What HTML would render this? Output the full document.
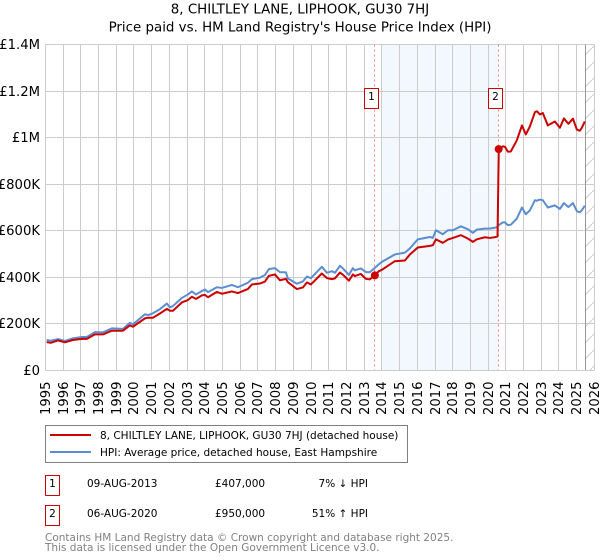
<!DOCTYPE html>
<html lang="en">
<head>
<meta charset="utf-8">
<title>8, CHILTLEY LANE, LIPHOOK, GU30 7HJ</title>
<style>
html,body{margin:0;padding:0;background:#fff;width:600px;height:560px;overflow:hidden}
svg{display:block;font-family:"DejaVu Sans","Liberation Sans",sans-serif;fill:#000}
</style>
</head>
<body>
<svg id="chart" xmlns="http://www.w3.org/2000/svg" width="600" height="560" viewBox="0 0 600 560">
  <defs>
    <pattern id="hatch" patternUnits="userSpaceOnUse" width="16" height="16">
      <path d="M-2 18 L18 -2" stroke="#cccccc" stroke-width="1" fill="none"/>
    </pattern>
  </defs>
  <text x="300" y="13.5" text-anchor="middle" font-size="13.4">8, CHILTLEY LANE, LIPHOOK, GU30 7HJ</text>
  <text x="300" y="31.5" text-anchor="middle" font-size="13.4">Price paid vs. HM Land Registry's House Price Index (HPI)</text>
  <g id="plot"></g>

  <rect x="45.5" y="425.5" width="362" height="37" fill="#fff" stroke="#808080" stroke-width="1"/>
  <line x1="50" x2="91" y1="435" y2="435" stroke="#cc0000" stroke-width="2"/>
  <text x="100" y="439" font-size="10.5">8, CHILTLEY LANE, LIPHOOK, GU30 7HJ (detached house)</text>
  <line x1="50" x2="91" y1="452" y2="452" stroke="#5b8dd0" stroke-width="2"/>
  <text x="100" y="456" font-size="10.5">HPI: Average price, detached house, East Hampshire</text>

  <g>
    <rect x="45.5" y="475.5" width="14" height="20" fill="#fff" stroke="#cc0000"/>
    <text x="52.5" y="487" text-anchor="middle" font-size="10.5">1</text>
    <text x="87" y="487" font-size="10.5">09-AUG-2013</text>
    <text x="215" y="487" font-size="10.5">£407,000</text>
    <text x="368" y="487" text-anchor="end" font-size="10.5">7% ↓ HPI</text>
  </g>
  <g>
    <rect x="45.5" y="505.5" width="14" height="20" fill="#fff" stroke="#cc0000"/>
    <text x="52.5" y="517" text-anchor="middle" font-size="10.5">2</text>
    <text x="87" y="517" font-size="10.5">06-AUG-2020</text>
    <text x="215" y="517" font-size="10.5">£950,000</text>
    <text x="368" y="517" text-anchor="end" font-size="10.5">51% ↑ HPI</text>
  </g>
  <text x="45" y="541" font-size="10.5" style="fill:#808080">Contains HM Land Registry data © Crown copyright and database right 2025.</text>
  <text x="45" y="551" font-size="10.5" style="fill:#808080">This data is licensed under the Open Government Licence v3.0.</text>
</svg>
<script>
const yearTicks = [1995,1996,1997,1998,1999,2000,2001,2002,2003,2004,2005,2006,2007,2008,2009,2010,2011,2012,2013,2014,2015,2016,2017,2018,2019,2020,2021,2022,2023,2024,2025,2026];
const valueTicks = [0,200,400,600,800,1000,1200,1400];
const valueTickLabels = ["£0","£200K","£400K","£600K","£800K","£1M","£1.2M","£1.4M"];
const dates = [
1995.07,1995.31,1995.71,1996.10,1996.55,1997.06,1997.34,1997.80,1998.25,1998.75,
1999.38,1999.77,1999.94,2000.62,2000.79,2001.07,2001.47,2001.86,2002.03,2002.20,
2002.71,2003.05,2003.27,2003.50,2003.84,2004.01,2004.18,2004.68,2004.97,2005.53,
2005.87,2006.43,2006.66,2007.11,2007.39,2007.62,2007.96,2008.24,2008.58,2008.69,
2009.20,2009.54,2009.77,2009.99,2010.61,2010.90,2011.18,2011.35,2011.63,2011.80,
2012.14,2012.36,2012.47,2012.81,2013.10,2013.32,2013.60,2013.83,2014.00,2014.73,
2015.30,2015.58,2016.03,2016.71,2016.88,2017.05,2017.44,2017.73,2018.01,2018.46,
2018.86,2019.14,2019.36,2019.82,2020.10,2020.44,2020.53,2020.60,2020.83,2020.95,
2021.11,2021.28,2021.62,2021.91,2022.13,2022.36,2022.64,2022.75,2022.92,2023.09,
2023.37,2023.77,2024.05,2024.28,2024.53,2024.79,2025.01,2025.18,2025.29,2025.46];
const hpiValues = [
129,126,133,125,136,142,142,163,162,179,
177,203,196,240,236,244,262,286,269,275,
310,325,338,325,340,346,335,356,353,366,
356,375,391,397,408,434,438,421,420,394,
371,381,402,395,444,418,425,418,448,437,
409,438,429,437,421,421,439,455,465,497,
505,523,562,572,568,601,584,601,601,618,
605,590,604,608,608,613,616,623,635,635,
623,625,651,699,670,687,730,728,733,730,
699,708,693,718,701,718,683,678,687,707];
const priceValues = [
120,117,127,119,129,134,134,153,153,169,
169,192,186,222,225,225,243,263,255,255,
291,301,315,306,321,323,313,336,328,338,
331,348,368,372,380,405,411,386,392,378,
348,355,377,368,415,395,391,394,419,410,
384,411,404,413,392,390,407,425,431,468,
471,497,527,534,537,562,547,561,568,580,
565,551,562,571,568,572,575,950,962,960,
939,940,988,1052,1013,1048,1109,1113,1099,1105,
1052,1069,1042,1082,1059,1081,1034,1029,1042,1069];
const saleDates = [2013.605,2020.595];
const saleValues = [407,950];
const saleLabels = ["1","2"];
const shadeRange = [2014,2020.6];
const dataEnd = 2025.5;

const NS = 'http://www.w3.org/2000/svg';
const plot = document.getElementById('plot');
const X0 = 45.4, X1 = 594.4, Y0 = 370, Y1 = 44.5;
function xScale(year){ return X0 + (year - 1995) * (X1 - X0) / 31; }
function yScale(v){ return Y0 + v * (Y1 - Y0) / 1400; }
function snap(p){ return Math.floor(p) + 0.5; }
function mk(tag, attrs, parent){
  const el = document.createElementNS(NS, tag);
  for (const k in attrs) el.setAttribute(k, attrs[k]);
  (parent || plot).appendChild(el);
  return el;
}

const shade = mk('rect', {x:xScale(shadeRange[0]), y:Y1, width:xScale(shadeRange[1])-xScale(shadeRange[0]), height:Y0-Y1, fill:'#f3f7fe'});



const hatch = mk('rect', {x:xScale(dataEnd), y:Y1, width:X1-xScale(dataEnd), height:Y0-Y1, fill:'url(#hatch)'});



yearTicks.forEach(function(yr){
  const x = snap(xScale(yr));
  const g = mk('line', {x1:x, x2:x, y1:Y1, y2:Y0, stroke:'#cccccc', 'stroke-width':1});
  
  
  const t = mk('text', {transform:'translate(' + (x + 4.7) + ',415) rotate(-90)', 'font-size':13.2});
  t.textContent = yr;
  
  
});

valueTicks.forEach(function(v, i){
  const y = snap(yScale(v));
  const g = mk('line', {x1:X0, x2:X1, y1:y, y2:y, stroke:'#cccccc', 'stroke-width':1});
  
  
  const t = mk('text', {x:40, y:y + 4.5, 'text-anchor':'end', 'font-size':13.2});
  t.textContent = valueTickLabels[i];
  
  
});

const endLine = mk('line', {x1:snap(xScale(dataEnd)), x2:snap(xScale(dataEnd)), y1:Y1, y2:Y0, stroke:'#999999', 'stroke-width':1});



saleDates.forEach(function(d){
  const x = snap(xScale(d));
  const l = mk('line', {x1:x, x2:x, y1:Y1, y2:Y0, stroke:'#ff8080', 'stroke-width':1, 'stroke-dasharray':'2 3'});
  
  
});

function linePoints(values){
  return values.map(function(v, i){ return xScale(dates[i]).toFixed(2) + ',' + yScale(v).toFixed(2); }).join(' ');
}
const hpiLine = mk('polyline', {points:linePoints(hpiValues), fill:'none', stroke:'#5b8dd0', 'stroke-width':2, 'stroke-linejoin':'round'});


const priceLine = mk('polyline', {points:linePoints(priceValues), fill:'none', stroke:'#cc0000', 'stroke-width':2, 'stroke-linejoin':'round'});



saleDates.forEach(function(d, i){
  const c = mk('circle', {cx:xScale(d), cy:yScale(saleValues[i]), r:4, fill:'#cc0000'});
  
  
  const x = snap(xScale(d)) - 10;
  const b = mk('rect', {x:x, y:88.5, width:14, height:20, fill:'#fff', stroke:'#cc0000'});
  
  
  const t = mk('text', {x:x + 7, y:100, 'text-anchor':'middle', 'font-size':10.5});
  t.textContent = saleLabels[i];
  
  
});
</script>
</body>
</html>
